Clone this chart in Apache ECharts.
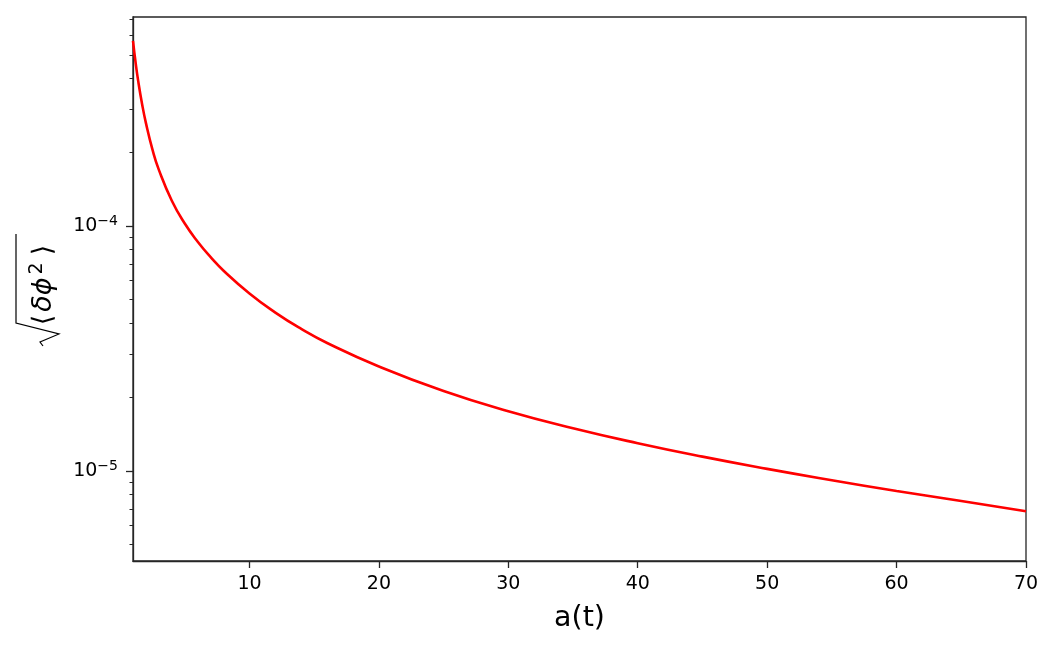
<!DOCTYPE html>
<html>
<head>
<meta charset="utf-8">
<script src="https://cdn.jsdelivr.net/npm/echarts@6/dist/echarts.min.js"></script>
<style>
  html, body { margin: 0; padding: 0; background: #fff; }
  #main { width: 1053px; height: 645px; }
</style>
</head>
<body>
<div id="main"></div>
<script>
// scale factor a(t) and rms field fluctuation
var aVals = [1, 1.2, 1.4, 1.7, 2, 2.5, 3, 4, 5, 6, 7, 8, 10, 12, 14, 16, 20, 25, 30, 35, 40, 45, 50, 55, 60, 65, 70];
var sigVals = [5.70e-4, 4.65e-4, 3.91e-4, 3.15e-4, 2.63e-4, 2.055e-4, 1.694e-4, 1.268e-4, 1.023e-4, 8.62e-5, 7.46e-5, 6.57e-5,
  5.30e-5, 4.43e-5, 3.80e-5, 3.33e-5, 2.67e-5, 2.12e-5, 1.753e-5, 1.494e-5, 1.298e-5, 1.144e-5, 1.020e-5, 9.17e-6, 8.29e-6, 7.54e-6, 6.85e-6];

var xTicks = [10, 20, 30, 40, 50, 60, 70];
var yMajor = [1e-5, 1e-4];
var yMinor = [5e-6, 6e-6, 7e-6, 8e-6, 9e-6, 2e-5, 3e-5, 4e-5, 5e-5, 6e-5, 7e-5, 8e-5, 9e-5, 2e-4, 3e-4, 4e-4, 5e-4, 6e-4, 7e-4];

var seriesData = aVals.map(function (a, i) { return [a, sigVals[i]]; });

var axisCol = '#262626';
var font = 'DejaVu Sans';

var myChart = echarts.init(document.getElementById('main'));

var option = {
  animation: false,
  backgroundColor: '#fff',
  grid: {
    left: 133, right: 27, top: 17, bottom: 84,
    show: true, borderColor: axisCol, borderWidth: 1.3, backgroundColor: 'transparent'
  },
  xAxis: {
    type: 'value',
    min: 1, max: 70,
    name: 'a(t)',
    nameLocation: 'middle',
    nameGap: 43,
    nameTextStyle: { fontFamily: font, fontSize: 28.5, color: '#000' },
    axisLine: { show: true, lineStyle: { color: axisCol, width: 1.3 } },
    axisTick: { show: true, length: 7, customValues: xTicks, lineStyle: { color: axisCol, width: 1.3 } },
    axisLabel: { customValues: xTicks, margin: 14, fontFamily: font, fontSize: 19, color: '#000' },
    splitLine: { show: false }
  },
  yAxis: [{
    type: 'log',
    logBase: 10,
    min: 4.29e-6, max: 7.13e-4,
    axisLine: { show: true, lineStyle: { color: axisCol, width: 1.3 } },
    axisTick: { show: true, length: 7, customValues: yMajor, lineStyle: { color: axisCol, width: 1.3 } },
    axisLabel: {
      customValues: yMajor,
      margin: 15,
      fontFamily: font,
      color: '#000',
      formatter: function (v) {
        var e = Math.round(Math.log10(v));
        return '{b|10}{s|\u2212' + Math.abs(e) + '}';
      },
      rich: {
        b: { fontFamily: font, fontSize: 19, color: '#000' },
        s: { fontFamily: font, fontSize: 14, color: '#000', padding: [0, 0, 10, 0] }
      }
    },
    splitLine: { show: false }
  }, {
    type: 'log',
    logBase: 10,
    min: 4.29e-6, max: 7.13e-4,
    position: 'left',
    axisLine: { show: false },
    axisTick: { show: true, length: 3.5, customValues: yMinor, lineStyle: { color: axisCol, width: 1 } },
    axisLabel: { show: false },
    splitLine: { show: false }
  }],
  series: [{
    type: 'line',
    yAxisIndex: 0,
    data: seriesData,
    smooth: 0.5,
    showSymbol: false,
    lineStyle: { color: '#ff0000', width: 2.6 }
  }],
  graphic: [{
    type: 'group',
    x: 40, y: 288,
    rotation: Math.PI / 2,
    children: [{
      type: 'polyline',
      shape: { points: [[-58, 3], [-54, 0], [-46, 19], [-35, -24], [54, -24]] },
      style: { stroke: '#000', lineWidth: 1.2, fill: null }
    }, {
      type: 'text',
      x: 3, y: 4,
      style: {
        text: '{b|\u27e8}{i|\u03b4\u03d5}{s|2}{b|\u27e9}',
        align: 'center', verticalAlign: 'middle',
        rich: {
          b: { fontFamily: font, fontSize: 27, fill: '#000', padding: [0, 3, 0, 3] },
          i: { fontFamily: font, fontSize: 27, fontStyle: 'italic', fill: '#000' },
          s: { fontFamily: font, fontSize: 19, fill: '#000', padding: [0, 4, 14, 3] }
        }
      }
    }]
  }]
};

myChart.setOption(option);
</script>
</body>
</html>
